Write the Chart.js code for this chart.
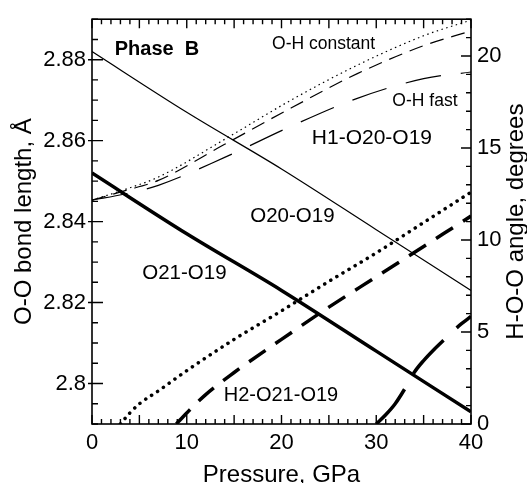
<!DOCTYPE html>
<html>
<head>
<meta charset="utf-8">
<script src="https://cdn.jsdelivr.net/npm/chart.js@4.4.0/dist/chart.umd.min.js"></script>
<style>
  body { margin: 0; background: #fff; }
  #wrap { width: 527px; height: 483px; }
</style>
</head>
<body>
<div id="wrap"><canvas id="chart"></canvas></div>
<script>
"use strict";

// O-O distances (left axis, Angstrom)
const pressure = [0, 10, 20, 30, 40];
const o20o19 = [2.882, 2.867, 2.853, 2.838, 2.823];
const o21o19 = [2.852, 2.837, 2.823, 2.808, 2.793];

// H1-O20-O19 angle (right axis, degrees)
const h1Pressure = [0, 3.5, 7, 14, 21, 28, 35, 40];
const h1Constant = [12.17, 12.75, 13.42, 15.47, 17.6, 19.5, 21.1, 21.95];
const h1Mid = [12.17, 12.68, 13.24, 15.2, 17.17, 19.04, 20.56, 21.36];
const h1Fast = [12.17, 12.5, 12.97, 14.49, 16.18, 17.7, 18.77, 19.13];

// H2-O21-O19 angle (right axis, degrees)
const h2ConstantP = [3, 4, 5, 7, 10, 15, 20, 25, 30, 35, 40];
const h2Constant = [0, 0.6, 1.1, 1.8, 2.9, 4.6, 6.15, 7.75, 9.3, 10.95, 12.6];
const h2MidP = [8.9, 10, 12, 15, 20, 25, 30, 35, 40];
const h2Mid = [0, 0.6, 1.6, 2.8, 4.6, 6.35, 8.0, 9.65, 11.3];
const h2FastP = [30, 31, 32, 33, 34, 35, 36, 37, 38, 39, 40];
const h2Fast = [0, 0.5, 1.1, 1.9, 2.8, 3.45, 4.0, 4.5, 5.0, 5.45, 5.85];

// tick labels
const xTicks = [0, 10, 20, 30, 40];
const leftTicks = [2.8, 2.82, 2.84, 2.86, 2.88];
const leftTickLabels = ["2.8", "2.82", "2.84", "2.86", "2.88"];
const rightTicks = [0, 5, 10, 15, 20];

// text inside the plot: [text, pressure, O-O length, font]
const notes = [
  ["Phase  B", 2.4, 2.8824, "bold 20px"],
  ["O-H constant", 19.0, 2.8838, "17.5px"],
  ["O-H fast", 31.7, 2.8697, "17.5px"],
  ["H1-O20-O19", 23.2, 2.8607, "21px"],
  ["O20-O19", 16.7, 2.8414, "20.5px"],
  ["O21-O19", 5.3, 2.8273, "20.5px"],
  ["H2-O21-O19", 13.9, 2.7970, "20px"]
];

const FONT = "'Liberation Sans', Arial, Helvetica, sans-serif";
Chart.defaults.color = "#000";
Chart.defaults.font.family = FONT;

let toPoints = (xs, ys) => xs.map((x, i) => ({x: x, y: ys[i]}));

let line = (data, axis, width, dash, cap) => ({
  data: data,
  yAxisID: axis,
  borderColor: "#000",
  borderWidth: width,
  borderDash: dash || [],
  borderCapStyle: cap || "butt",
  cubicInterpolationMode: "monotone",
  pointRadius: 0,
  fill: false
});

// frame, inward tick marks, notes and the right axis title
const decor = {
  id: "decor",
  afterDatasetsDraw(chart) {
    const ctx = chart.ctx;
    const a = chart.chartArea;
    const x = chart.scales.x;
    const yl = chart.scales.yLeft;
    const yr = chart.scales.yRight;
    ctx.save();
    ctx.strokeStyle = "#000";
    ctx.lineWidth = 1.6;
    ctx.strokeRect(a.left, a.top, a.right - a.left, a.bottom - a.top);

    ctx.lineWidth = 1.4;
    ctx.beginPath();
    for (let k = 0; k <= 40; k++) {
      let px = x.getPixelForValue(k);
      let len = k % 5 === 0 ? 9 : 5;
      ctx.moveTo(px, a.bottom); ctx.lineTo(px, a.bottom - len);
      ctx.moveTo(px, a.top); ctx.lineTo(px, a.top + len);
    }
    for (let k = 0; k <= 20; k++) {
      let v = 2.79 + k * 0.005;
      let q = v / 0.02;
      let major = Math.abs(q - Math.round(q)) < 1e-6;
      let py = yl.getPixelForValue(v);
      ctx.moveTo(a.left - (major ? 4 : 0), py); ctx.lineTo(a.left + (major ? 11 : 6), py);
    }
    for (let k = 0; k <= 22; k++) {
      let py = yr.getPixelForValue(k);
      let len = k % 5 === 0 ? 10 : 5;
      ctx.moveTo(a.right, py); ctx.lineTo(a.right - len, py);
    }
    ctx.stroke();

    ctx.fillStyle = "#000";
    ctx.textBaseline = "middle";
    ctx.textAlign = "left";
    for (let n of notes) {
      ctx.font = `${n[3]} ${FONT}`;
      ctx.fillText(n[0], x.getPixelForValue(n[1]), yl.getPixelForValue(n[2]));
    }

    ctx.font = `24px ${FONT}`;
    ctx.textAlign = "center";
    ctx.translate(516, (a.top + a.bottom) / 2);
    ctx.rotate(-Math.PI / 2);
    ctx.fillText("H-O-O angle, degrees", 0, 0);
    ctx.restore();
  }
};

let chart = new Chart(document.querySelector("#chart"), {
  type: "line",
  data: {
    datasets: [
      line(toPoints(pressure, o20o19), "yLeft", 1.2),
      line(toPoints(pressure, o21o19), "yLeft", 3.5),
      line(toPoints(h1Pressure, h1Constant), "yRight", 1.2, [1.5, 3.5]),
      line(toPoints(h1Pressure, h1Mid), "yRight", 1.2, [14, 8]),
      line(toPoints(h1Pressure, h1Fast), "yRight", 1.2, [36, 20]),
      line(toPoints(h2ConstantP, h2Constant), "yRight", 3.5, [0.1, 7], "round"),
      line(toPoints(h2MidP, h2Mid), "yRight", 3.5, [20, 12]),
      line(toPoints(h2FastP, h2Fast), "yRight", 3.5, [45, 18])
    ]
  },
  options: {
    responsive: true,
    maintainAspectRatio: false,
    animation: false,
    layout: { padding: { top: 13, left: 0, right: 0, bottom: 0 } },
    plugins: { legend: { display: false }, tooltip: { enabled: false } },
    scales: {
      x: {
        type: "linear",
        min: 0,
        max: 40,
        grid: { display: false, drawTicks: false },
        border: { display: false },
        afterBuildTicks: s => { s.ticks = xTicks.map(v => ({value: v})); },
        afterFit: s => { s.height = 59; },
        ticks: { font: { size: 22 }, padding: 6, maxRotation: 0 },
        title: {
          display: true,
          text: "Pressure, GPa",
          font: { size: 24, lineHeight: 1 },
          padding: { top: 0, bottom: -4 }
        }
      },
      yLeft: {
        type: "linear",
        position: "left",
        min: 2.79,
        max: 2.89,
        grid: { display: false, drawTicks: false },
        border: { display: false },
        afterBuildTicks: s => { s.ticks = leftTicks.map(v => ({value: v})); },
        afterFit: s => { s.width = 92; },
        ticks: {
          font: { size: 22 },
          padding: 6,
          callback: v => leftTickLabels[leftTicks.findIndex(t => Math.abs(t - v) < 1e-6)]
        },
        title: {
          display: true,
          text: "O-O bond length, Å",
          font: { size: 24, lineHeight: 1 },
          padding: { top: 12, bottom: 0 }
        }
      },
      yRight: {
        type: "linear",
        position: "right",
        min: 0,
        max: 22,
        grid: { display: false, drawTicks: false },
        border: { display: false },
        afterBuildTicks: s => { s.ticks = rightTicks.map(v => ({value: v})); },
        afterFit: s => { s.width = 56; },
        ticks: { font: { size: 22 }, padding: 6 }
      }
    }
  },
  plugins: [decor]
});
</script>
</body>
</html>
